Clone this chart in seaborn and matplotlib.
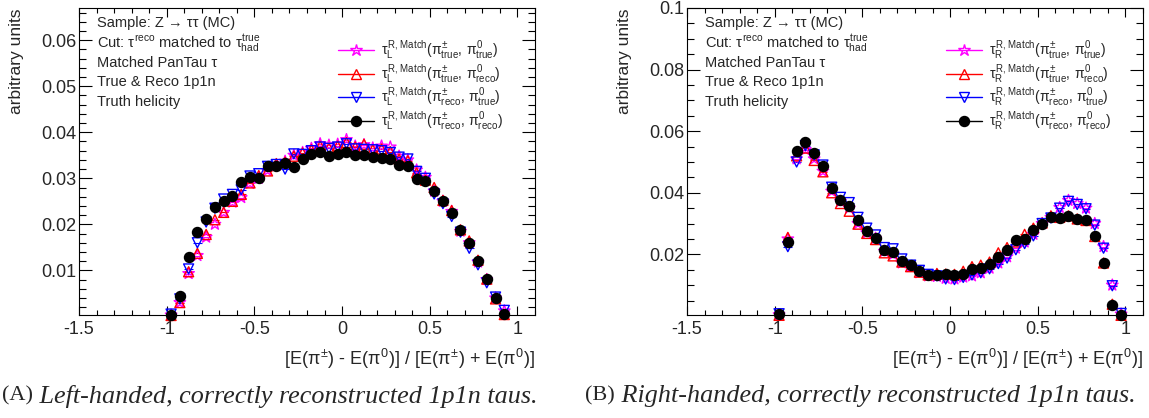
#!/usr/bin/env python3
#===============================================================================
# plot: energy asymmetry of 1p1n taus, left- and right-handed
#===============================================================================

# Imports ======================================================================

import matplotlib
matplotlib.use('Agg')
import matplotlib.pyplot as plt
from matplotlib.lines import Line2D
from matplotlib.ticker import MultipleLocator, FixedLocator
import seaborn as sns


# Data =========================================================================

bin_centers = [
    -0.975, -0.925, -0.875, -0.825, -0.775, -0.725, -0.675, -0.625, -0.575, -0.525,
    -0.475, -0.425, -0.375, -0.325, -0.275, -0.225, -0.175, -0.125, -0.075, -0.025,
    0.025, 0.075, 0.125, 0.175, 0.225, 0.275, 0.325, 0.375, 0.425, 0.475,
    0.525, 0.575, 0.625, 0.675, 0.725, 0.775, 0.825, 0.875, 0.925, 0.975,
]

# left-handed (last bin empty)
left_true_true = [
    0.0003, 0.0030, 0.0093, 0.0132, 0.0172, 0.0200, 0.0226, 0.0248, 0.0258, 0.0289,
    0.0300, 0.0317, 0.0328, 0.0337, 0.0350, 0.0356, 0.0365, 0.0375, 0.0372, 0.0374,
    0.0384, 0.0370, 0.0373, 0.0366, 0.0370, 0.0368, 0.0348, 0.0340, 0.0318, 0.0302,
    0.0272, 0.0250, 0.0228, 0.0185, 0.0160, 0.0118, 0.0080, 0.0040, 0.0012,
]
left_true_reco = [
    0.0002, 0.0030, 0.0097, 0.0137, 0.0178, 0.0210, 0.0226, 0.0250, 0.0265, 0.0290,
    0.0306, 0.0316, 0.0332, 0.0335, 0.0348, 0.0355, 0.0362, 0.0370, 0.0366, 0.0370,
    0.0378, 0.0368, 0.0374, 0.0362, 0.0364, 0.0358, 0.0342, 0.0338, 0.0312, 0.0296,
    0.0280, 0.0252, 0.0230, 0.0188, 0.0164, 0.0122, 0.0081, 0.0038, 0.0004,
]
left_reco_true = [
    0.0005, 0.0038, 0.0103, 0.0160, 0.0205, 0.0235, 0.0255, 0.0265, 0.0275, 0.0305,
    0.0310, 0.0326, 0.0330, 0.0320, 0.0353, 0.0352, 0.0360, 0.0368, 0.0365, 0.0368,
    0.0375, 0.0364, 0.0363, 0.0362, 0.0360, 0.0356, 0.0346, 0.0342, 0.0315, 0.0300,
    0.0266, 0.0245, 0.0217, 0.0183, 0.0148, 0.0112, 0.0073, 0.0042, 0.0013,
]
left_reco_reco = [
    0.0003, 0.0045, 0.0129, 0.0184, 0.0211, 0.0237, 0.0251, 0.0261, 0.0291, 0.0303,
    0.0301, 0.0326, 0.0326, 0.0334, 0.0325, 0.0342, 0.0353, 0.0357, 0.0348, 0.0352,
    0.0357, 0.0350, 0.0350, 0.0346, 0.0344, 0.0341, 0.0328, 0.0326, 0.0299, 0.0294,
    0.0272, 0.0251, 0.0224, 0.0187, 0.0160, 0.0120, 0.0082, 0.0040, 0.0005,
]

# right-handed
right_true_true = [
    0.0004, 0.0250, 0.0510, 0.0540, 0.0510, 0.0470, 0.0405, 0.0372, 0.0350, 0.0300,
    0.0270, 0.0252, 0.0210, 0.0200, 0.0172, 0.0160, 0.0140, 0.0130, 0.0128, 0.0122,
    0.0120, 0.0126, 0.0130, 0.0140, 0.0155, 0.0172, 0.0192, 0.0220, 0.0240, 0.0265,
    0.0300, 0.0320, 0.0352, 0.0375, 0.0365, 0.0350, 0.0300, 0.0225, 0.0100, 0.0006,
]
right_true_reco = [
    0.0002, 0.0255, 0.0520, 0.0545, 0.0505, 0.0468, 0.0400, 0.0365, 0.0340, 0.0298,
    0.0268, 0.0248, 0.0205, 0.0195, 0.0175, 0.0160, 0.0142, 0.0133, 0.0138, 0.0136,
    0.0135, 0.0145, 0.0160, 0.0165, 0.0175, 0.0205, 0.0222, 0.0240, 0.0265, 0.0285,
    0.0302, 0.0325, 0.0320, 0.0325, 0.0315, 0.0310, 0.0258, 0.0172, 0.0038, 0.0002,
]
right_reco_true = [
    0.0007, 0.0225, 0.0500, 0.0553, 0.0523, 0.0490, 0.0418, 0.0385, 0.0368, 0.0320,
    0.0285, 0.0263, 0.0222, 0.0218, 0.0185, 0.0165, 0.0148, 0.0135, 0.0130, 0.0120,
    0.0118, 0.0125, 0.0133, 0.0140, 0.0153, 0.0170, 0.0188, 0.0215, 0.0235, 0.0260,
    0.0300, 0.0318, 0.0350, 0.0372, 0.0362, 0.0348, 0.0295, 0.0220, 0.0098, 0.0008,
]
right_reco_reco = [
    0.0005, 0.0240, 0.0537, 0.0566, 0.0530, 0.0486, 0.0414, 0.0375, 0.0357, 0.0313,
    0.0276, 0.0254, 0.0213, 0.0207, 0.0178, 0.0167, 0.0146, 0.0133, 0.0133, 0.0135,
    0.0133, 0.0137, 0.0154, 0.0157, 0.0170, 0.0192, 0.0213, 0.0245, 0.0250, 0.0278,
    0.0299, 0.0321, 0.0319, 0.0323, 0.0316, 0.0312, 0.0259, 0.0173, 0.0036, 0.0004,
]

info_lines = [
    'Sample: Z \u2192 \u03c4\u03c4 (MC)',
    r'Cut: $\tau^{\rm reco}$ matched to $\tau^{\rm true}_{\rm had}$',
    'Matched PanTau \u03c4',
    'True & Reco 1p1n',
    'Truth helicity',
]
x_title = r'[E($\pi^{\pm}$) - E($\pi^{0}$)] / [E($\pi^{\pm}$) + E($\pi^{0}$)]'
captions = [
    ('(A)', 'Left-handed, correctly reconstructed 1p1n taus.'),
    ('(B)', 'Right-handed, correctly reconstructed 1p1n taus.'),
]

# magenta star, red triangle, blue inverted triangle, black dot
styles = [
    ('#ff00ff', '*', 75, False, r'\pi^{\pm}_{\rm true},\,\pi^{0}_{\rm true}'),
    ('#ff0000', '^', 52, False, r'\pi^{\pm}_{\rm true},\,\pi^{0}_{\rm reco}'),
    ('#0000ff', 'v', 52, False, r'\pi^{\pm}_{\rm reco},\,\pi^{0}_{\rm true}'),
    ('#000000', 'o', 52, True, r'\pi^{\pm}_{\rm reco},\,\pi^{0}_{\rm reco}'),
]


# Functions ====================================================================

def draw_panel(ax, series, hand, ymax, ymajor, yminor):
    for values, (color, marker, size, filled, _) in zip(series, styles):
        x = bin_centers[:len(values)]
        ax.errorbar(x, values, xerr=0.025, fmt='none', ecolor=color,
                    elinewidth=0.8, capsize=0, clip_on=False)
        sns.scatterplot(
            x=x, y=values, ax=ax, marker=marker, s=size, color=color,
            facecolor=color if filled else 'none', edgecolor=color,
            linewidth=1.0, clip_on=False, legend=False, zorder=3
        )

    ax.set_xlim(-1.5, 1.1)
    ax.set_ylim(0.0003, ymax)
    ax.xaxis.set_major_locator(FixedLocator([-1.5, -1, -0.5, 0, 0.5, 1]))
    ax.xaxis.set_major_formatter(lambda v, p: f'{v:g}')
    ax.xaxis.set_minor_locator(MultipleLocator(0.1))
    ax.yaxis.set_major_locator(FixedLocator(ymajor))
    ax.yaxis.set_major_formatter(lambda v, p: f'{v:g}')
    ax.yaxis.set_minor_locator(MultipleLocator(yminor))
    ax.tick_params(which='both', direction='in', top=True, right=True,
                   width=0.8, color='black', labelsize=13)
    ax.tick_params(axis='x', which='major', length=6.5, pad=4)
    ax.tick_params(axis='x', which='minor', length=3.3)
    ax.tick_params(axis='y', which='major', length=9.5, pad=2)
    ax.tick_params(axis='y', which='minor', length=4.8)
    for spine in ax.spines.values():
        spine.set_linewidth(0.8)
        spine.set_color('black')

    ax.set_ylabel('arbitrary units', loc='top', fontsize=12.5)
    ax.yaxis.set_label_coords(-0.12, 1.0)
    ax.set_xlabel(x_title, loc='right', fontsize=13)
    ax.xaxis.set_label_coords(1.0, -0.105)

    for i, line in enumerate(info_lines):
        ax.text(0.039, 0.951 - i * 0.0643, line, transform=ax.transAxes,
                fontsize=10.5, va='center', ha='left')

    handles = []
    labels = []
    for color, marker, size, filled, args in styles:
        handles.append(Line2D([], [], color=color, marker=marker, lw=1.0,
                              ms=size ** 0.5, mec=color, mew=1.0,
                              mfc=color if filled else 'none'))
        labels.append(r'$\tau_{\rm %s}^{\rm R,\,Match}(%s)$' % (hand, args))
    ax.legend(handles, labels, loc='center left', bbox_to_anchor=(0.568, 0.748),
              frameon=False, fontsize=10, borderpad=0, borderaxespad=0,
              handlelength=2.6, handletextpad=0.5, labelspacing=0.1)


def main():
    sns.set_theme(style='ticks')
    plt.rcParams['font.family'] = ['Liberation Sans', 'DejaVu Sans']
    plt.rcParams['mathtext.fontset'] = 'custom'
    plt.rcParams['mathtext.rm'] = 'Liberation Sans'
    plt.rcParams['mathtext.it'] = 'Liberation Sans'
    plt.rcParams['mathtext.bf'] = 'Liberation Sans:bold'
    plt.rcParams['axes.unicode_minus'] = False

    fig = plt.figure(figsize=(11.49, 4.18), dpi=100)
    ax_l = fig.add_axes([79 / 1149, 103 / 418, 456 / 1149, 307 / 418])
    ax_r = fig.add_axes([687 / 1149, 103 / 418, 456 / 1149, 307 / 418])

    draw_panel(ax_l, [left_true_true, left_true_reco, left_reco_true, left_reco_reco],
               'L', 0.067, [0.01, 0.02, 0.03, 0.04, 0.05, 0.06], 0.002)
    draw_panel(ax_r, [right_true_true, right_true_reco, right_reco_true, right_reco_reco],
               'R', 0.1, [0.02, 0.04, 0.06, 0.08, 0.1], 0.005)

    for x0, (tag, text) in zip([2 / 1149, 585 / 1149], captions):
        t = fig.text(x0, 22 / 418, tag, fontsize=16, va='center', ha='left',
                     family=['Liberation Serif', 'DejaVu Serif'])
        fig.canvas.draw()
        plt.annotate(' ' + text, xy=(1, 0.5), xycoords=t, va='center', ha='left',
                     fontsize=18.8, style='italic',
                     family=['Liberation Serif', 'DejaVu Serif'])

    fig.savefig('out.png', dpi=100)


# Execute ======================================================================

if __name__ == '__main__':
    main()
